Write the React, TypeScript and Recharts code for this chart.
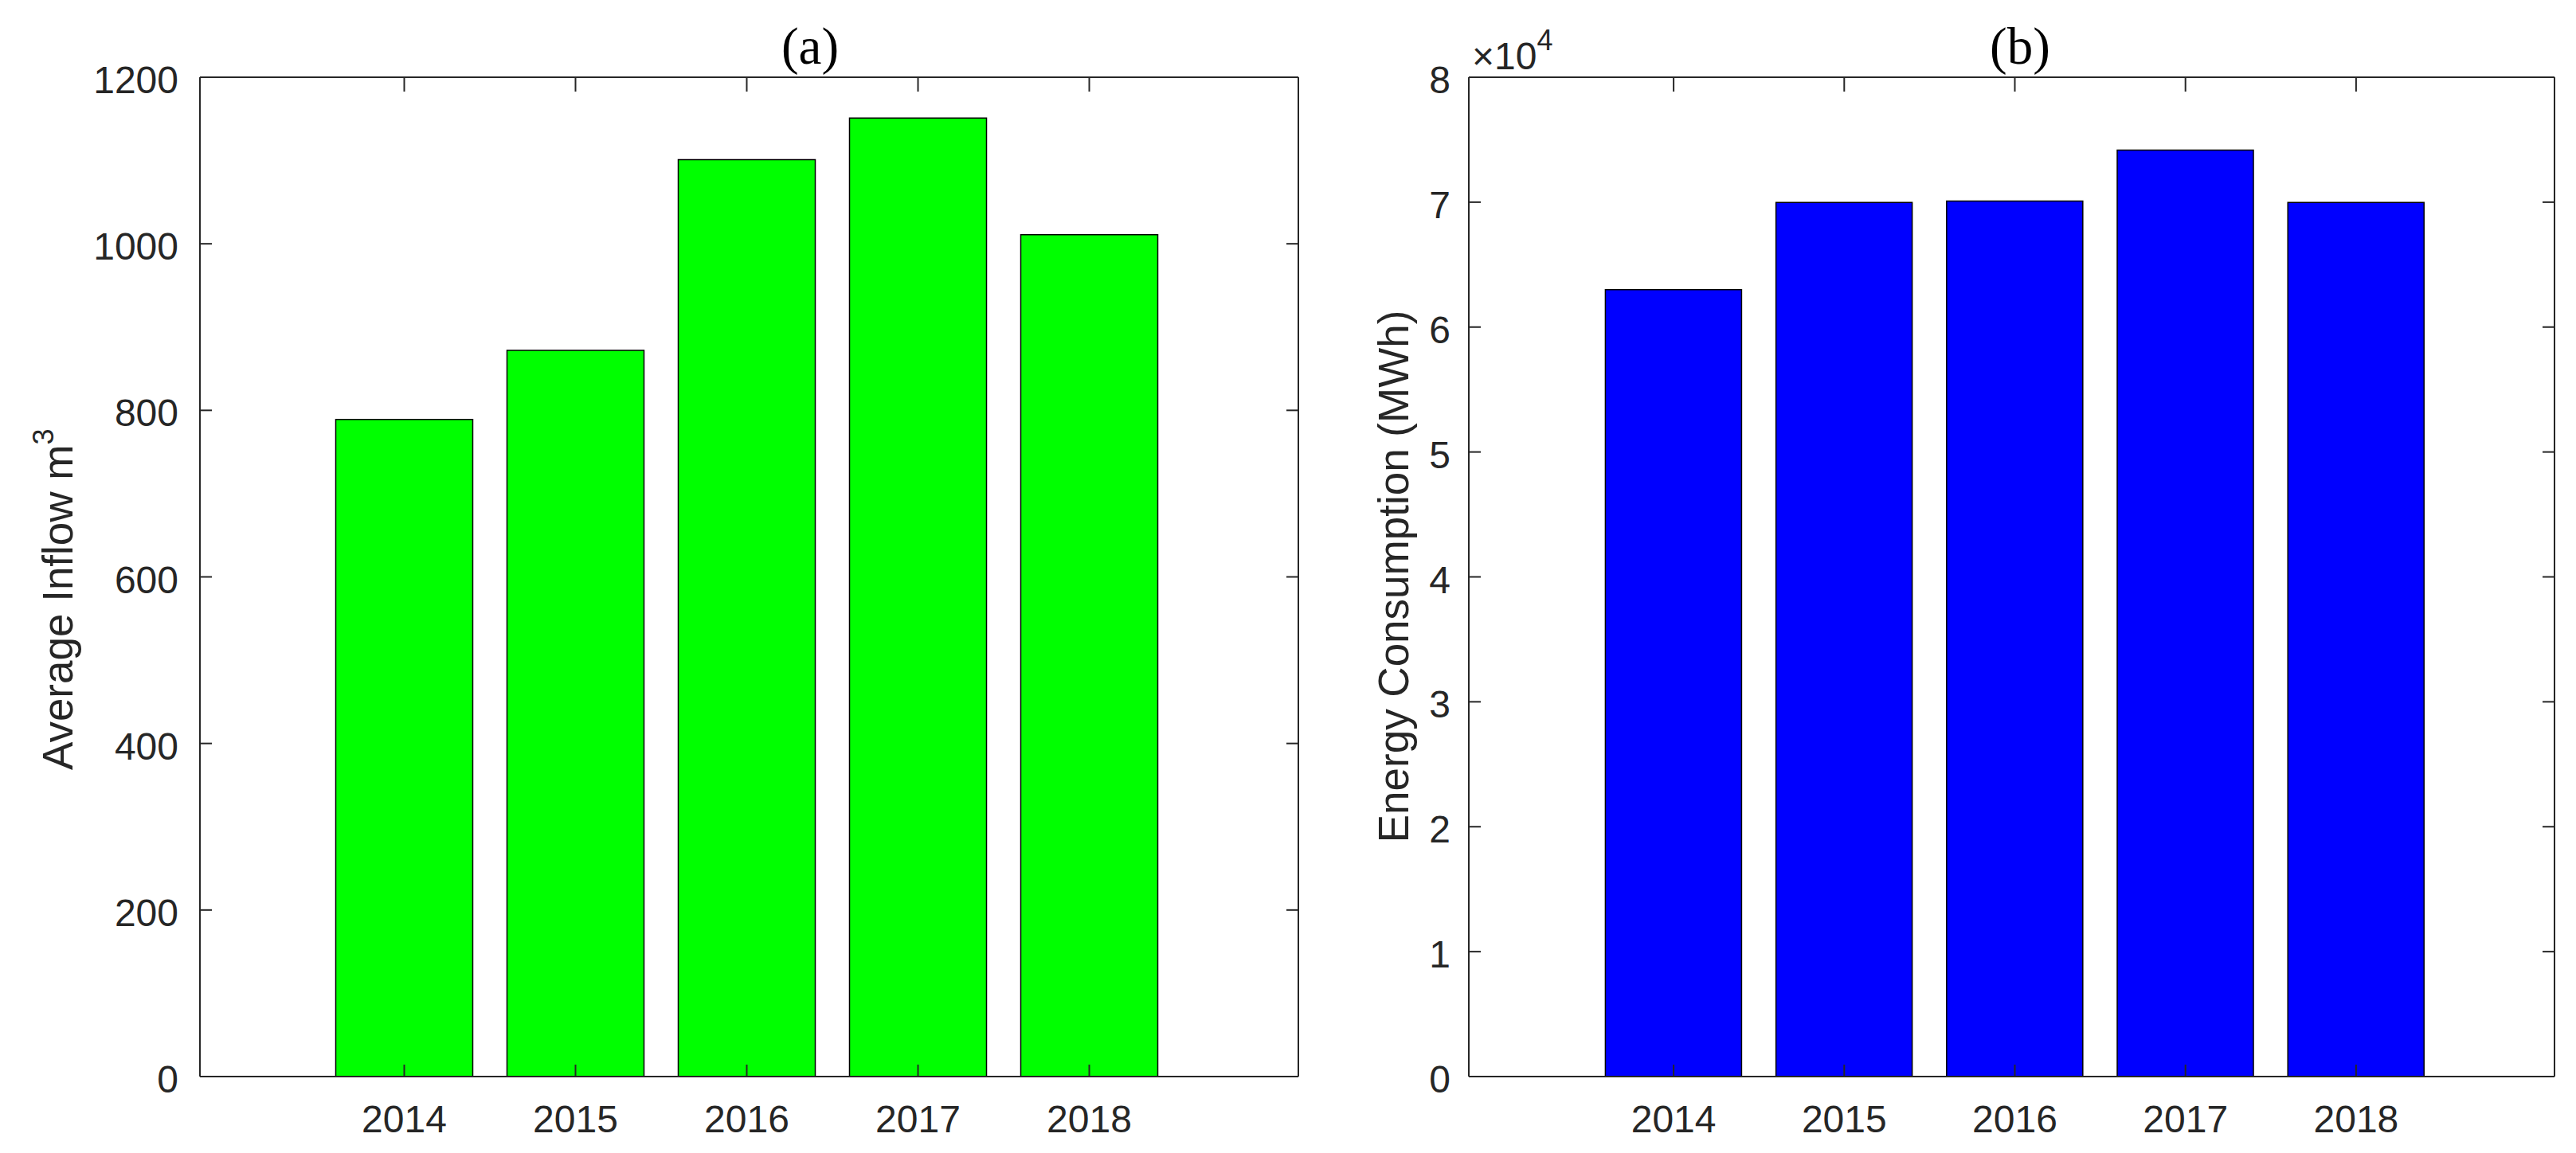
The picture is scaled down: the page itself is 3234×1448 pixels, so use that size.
import React from "react";
import { BarChart, Bar, XAxis, YAxis } from "recharts";

const years = ["2014", "2015", "2016", "2017", "2018"];
const inflow = [789, 872, 1101, 1151, 1011];
const energy = [63000, 69970, 70080, 74170, 69970];
const inflowTicks = [0, 200, 400, 600, 800, 1000, 1200];
const energyTicks = [0, 10000, 20000, 30000, 40000, 50000, 60000, 70000, 80000];

const INK = "#262626";
const SANS = "'Liberation Sans', Arial, Helvetica, sans-serif";
const SERIF = "'Liberation Serif', 'Times New Roman', serif";

const inflowData = years.map((y, i) => ({ year: y, value: inflow[i] }));
const energyData = years.map((y, i) => ({ year: y, value: energy[i] }));

// plot box, shared by both panels
const H = 1448;
const TOP = 97;
const BOTTOM = 1352;
const TICK = 15;

const LeftLabel = () => (
  <text
    x={91}
    y={967}
    transform="rotate(-90 91 967)"
    fontSize={53}
    fill={INK}
    fontFamily={SANS}
  >
    Average Inflow m
    <tspan dy={-24} fontSize={36}>
      3
    </tspan>
  </text>
);

const RightLabel = () => (
  <text
    x={1768 - 1660}
    y={724}
    transform={`rotate(-90 ${1768 - 1660} 724)`}
    textAnchor="middle"
    fontSize={53}
    fill={INK}
    fontFamily={SANS}
  >
    Energy Consumption (MWh)
  </text>
);

const TitleA = () => (
  <text x={1017} y={80} textAnchor="middle" fontSize={65} fill="#000" fontFamily={SERIF}>
    (a)
  </text>
);

const TitleB = () => (
  <g>
    <text x={2536 - 1660} y={80} textAnchor="middle" fontSize={65} fill="#000" fontFamily={SERIF}>
      (b)
    </text>
    <text x={1848 - 1660} y={87} fontSize={48} fill={INK} fontFamily={SANS}>
      ×10
      <tspan dy={-24} fontSize={36}>
        4
      </tspan>
    </text>
  </g>
);

// MATLAB style ticks: short marks pointing into the box
const lineProps = { stroke: INK, strokeWidth: 2 };

const topTick = (props: any) => (
  <line x1={props.x} x2={props.x} y1={TOP} y2={TOP + TICK + 3} {...lineProps} />
);

const bottomTick = (props: any) => (
  <g>
    <line x1={props.x} x2={props.x} y1={BOTTOM} y2={BOTTOM - TICK} {...lineProps} />
    <text x={props.x} y={1422} textAnchor="middle" fontSize={48} fill={INK} fontFamily={SANS}>
      {props.payload.value}
    </text>
  </g>
);

// left axis tick also puts the matching mark on the right edge of the box
const makeYTick =
  (left: number, right: number, gap: number, fmt: (v: number) => string) => (props: any) => (
    <g>
      <line x1={left} x2={left + TICK} y1={props.y} y2={props.y} {...lineProps} />
      <line x1={right - TICK} x2={right} y1={props.y} y2={props.y} {...lineProps} />
      <text
        x={left - gap}
        y={props.y + 20}
        textAnchor="end"
        fontSize={48}
        fill={INK}
        fontFamily={SANS}
      >
        {fmt(props.payload.value)}
      </text>
    </g>
  );

const axisLine = { stroke: INK, strokeWidth: 2 };

interface PanelProps {
  data: { year: string; value: number }[];
  width: number;
  yWidth: number;
  rWidth: number;
  pad: { left: number; right: number };
  domain: [number, number];
  ticks: number[];
  fmt: (v: number) => string;
  gap: number;
  fill: string;
  label: () => React.ReactElement;
  title: () => React.ReactElement;
}

const Panel = (p: PanelProps) => (
  <div style={{ position: "relative", width: p.width, height: H }}>
    <div style={{ position: "absolute", left: 0, top: 0 }}>
      <BarChart
        width={p.width}
        height={H}
        data={p.data}
        margin={{ top: TOP - 50, right: 0, bottom: H - BOTTOM, left: 0 }}
        barCategoryGap="10%"
      >
        <XAxis xAxisId="bottom" dataKey="year" hide padding={p.pad} />
        <XAxis
          xAxisId="top"
          dataKey="year"
          orientation="top"
          height={50}
          padding={p.pad}
          interval={0}
          tick={topTick}
          tickLine={false}
          axisLine={axisLine}
          label={{ content: p.title }}
        />
        <YAxis
          yAxisId="left"
          orientation="left"
          width={p.yWidth}
          type="number"
          domain={p.domain}
          allowDataOverflow
          ticks={p.ticks}
          interval={0}
          tick={makeYTick(p.yWidth, p.width - p.rWidth, p.gap, p.fmt)}
          tickLine={false}
          axisLine={axisLine}
          label={{ content: p.label }}
        />
        <YAxis
          yAxisId="right"
          orientation="right"
          width={p.rWidth}
          type="number"
          domain={p.domain}
          tick={false}
          tickLine={false}
          axisLine={axisLine}
        />
        <Bar
          xAxisId="bottom"
          yAxisId="left"
          dataKey="value"
          fill={p.fill}
          stroke="#000"
          strokeWidth={1.5}
          isAnimationActive={false}
        />
      </BarChart>
    </div>
    {/* bottom axis drawn on top so its ticks show over the bars */}
    <div style={{ position: "absolute", left: 0, top: 0, pointerEvents: "none" }}>
      <BarChart
        width={p.width}
        height={H}
        data={p.data}
        margin={{ top: TOP, right: p.rWidth, bottom: 0, left: p.yWidth }}
        barCategoryGap="10%"
      >
        <XAxis
          dataKey="year"
          orientation="bottom"
          height={H - BOTTOM}
          padding={p.pad}
          interval={0}
          tick={bottomTick}
          tickLine={false}
          axisLine={axisLine}
        />
        <YAxis type="number" domain={p.domain} hide />
      </BarChart>
    </div>
  </div>
);

export default function App() {
  return (
    <div
      style={{
        position: "absolute",
        left: 0,
        top: 0,
        width: 3234,
        height: H,
        background: "#fff",
      }}
    >
      <div style={{ position: "absolute", left: 0, top: 0 }}>
        <Panel
          data={inflowData}
          width={1660}
          yWidth={251}
          rWidth={30}
          pad={{ left: 149, right: 155 }}
          domain={[0, 1200]}
          ticks={inflowTicks}
          fmt={(v) => String(v)}
          gap={27}
          fill="#00FF00"
          label={LeftLabel}
          title={TitleA}
        />
      </div>
      <div style={{ position: "absolute", left: 1660, top: 0 }}>
        <Panel
          data={energyData}
          width={1574}
          yWidth={184}
          rWidth={27}
          pad={{ left: 150, right: 142 }}
          domain={[0, 80000]}
          ticks={energyTicks}
          fmt={(v) => String(v / 10000)}
          gap={23}
          fill="#0000FF"
          label={RightLabel}
          title={TitleB}
        />
      </div>
    </div>
  );
}
